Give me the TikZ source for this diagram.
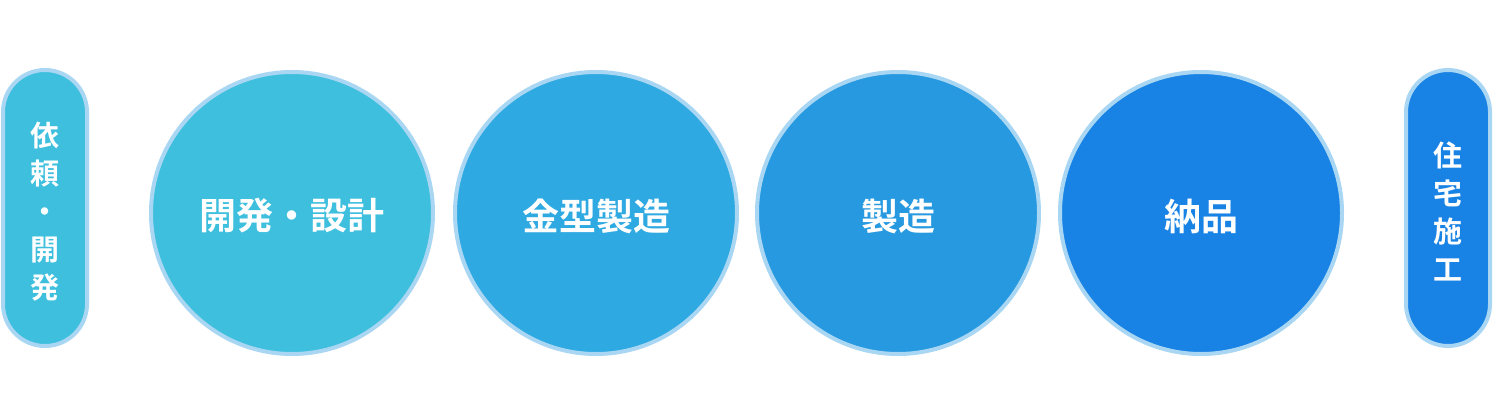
\documentclass[tikz,border=0pt]{standalone}
\usepackage{fontspec}
\setmainfont{Noto Sans CJK JP}[BoldFont={Noto Sans CJK JP Bold}]
\definecolor{cA}{HTML}{3DBFDD}
\definecolor{cB}{HTML}{2EA9E1}
\definecolor{cC}{HTML}{2699E0}
\definecolor{cD}{HTML}{1883E5}
\definecolor{rim}{HTML}{A8D6F3}
\tikzset{
  x=1pt,y=-1pt,
  stepcircle/.style={circle,draw=rim,line width=4pt,minimum size=282pt,inner sep=0pt,
    text=white,font=\fontsize{37}{37}\selectfont\bfseries},
  pill/.style={rounded corners=42pt,draw=rim,line width=4pt,minimum width=84pt,minimum height=276pt,
    inner sep=0pt,text=white,align=center,font=\fontsize{29}{38}\selectfont\bfseries},
}
\begin{document}
\begin{tikzpicture}
\useasboundingbox (0,0) rectangle (1494,410);
\node[pill,fill=cA] (p1) at (45,208) {};
\node[pill,fill=cD] (p2) at (1448,208) {};
\node[stepcircle,fill=cA] (c1) at (292,213) {};
\node[stepcircle,fill=cB] (c2) at (596,213) {};
\node[stepcircle,fill=cC] (c3) at (898,213) {};
\node[stepcircle,fill=cD] (c4) at (1201,213) {};
\node[text=white,align=center,font=\fontsize{29}{38}\selectfont\bfseries] (t1) at (45,212) {依\\頼\\・\\開\\発};
\node[text=white,align=center,font=\fontsize{29}{38}\selectfont\bfseries] (t2) at (1448,211) {住\\宅\\施\\工};
\node[text=white,font=\fontsize{37}{37}\selectfont\bfseries] (l1) at (292,216) {開発・設計};
\node[text=white,font=\fontsize{37}{37}\selectfont\bfseries] (l2) at (596,216) {金型製造};
\node[text=white,font=\fontsize{37}{37}\selectfont\bfseries] (l3) at (898,216) {製造};
\node[text=white,font=\fontsize{37}{37}\selectfont\bfseries] (l4) at (1201,216) {納品};
\end{tikzpicture}
\end{document}
